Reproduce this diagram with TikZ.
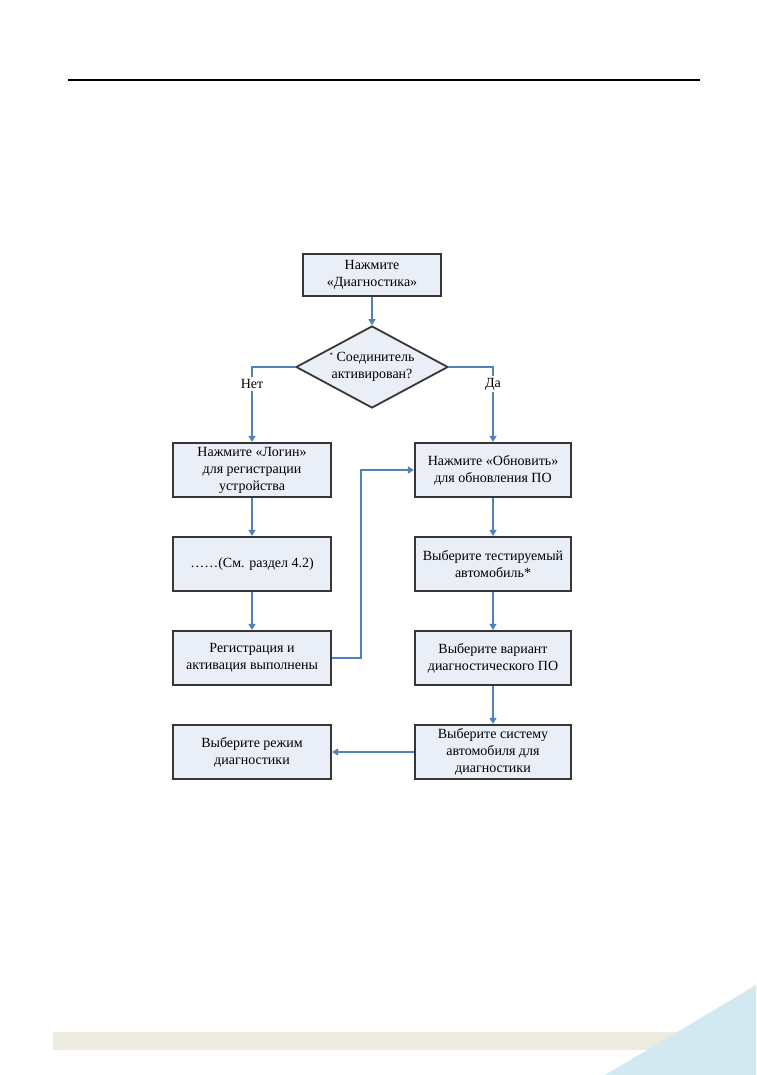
\documentclass[tikz,border=0pt]{standalone}
\usepackage{fontspec}
\setmainfont{Liberation Serif}
\usetikzlibrary{shapes.geometric,arrows.meta,shadows}
\definecolor{arrowblue}{HTML}{4F81BD}
\definecolor{boxfill}{HTML}{E9EEF7}
\definecolor{boxborder}{HTML}{363636}
\definecolor{bandcolor}{HTML}{EDEAE0}
\definecolor{triblue}{HTML}{D3E9F1}
\tikzset{
  box/.style={draw=boxborder, line width=2.2pt, fill=boxfill, align=center,
    inner sep=2pt, font=\fontsize{14}{17}\selectfont,
    drop shadow={opacity=0.25, shadow xshift=1pt, shadow yshift=-1pt}},
  colbox/.style={box, minimum height=54pt},
  decision/.style={diamond, draw=boxborder, line width=1.8pt, fill=boxfill, align=center,
    inner sep=0pt, aspect=1.85, font=\fontsize{14}{17}\selectfont},
  arr/.style={draw=arrowblue, line width=2.1pt, -{Triangle[length=6pt,width=7pt]}},
  lbl/.style={fill=white, inner sep=2pt, font=\fontsize{14}{17}\selectfont}
}
\begin{document}
\begin{tikzpicture}[x=1pt,y=-1pt]
\useasboundingbox (0,0) rectangle (756,1075);
% page decoration
\draw[line width=1.8pt, black] (68,80) -- (700,80);
\fill[bandcolor] (53,1032) rectangle (700,1050);
\fill[triblue] (605,1075) -- (756,985) -- (756,1075) -- cycle;

% nodes
\node[box, minimum width=138pt, minimum height=42pt, line width=2.6pt] (start) at (372,275) {Нажмите\\«Диагностика»};
\node[decision, minimum width=152pt, minimum height=82pt] (dec) at (372,367) {\raisebox{4pt}{\scriptsize*} Соединитель\\активирован?};

\node[colbox, minimum width=158pt] (l1) at (252,470) {Нажмите «Логин»\\для регистрации\\устройства};
\node[colbox, minimum width=158pt] (l2) at (252,564) {……(См. раздел 4.2)};
\node[colbox, minimum width=158pt] (l3) at (252,658) {Регистрация и\\активация выполнены};
\node[colbox, minimum width=158pt] (l4) at (252,752) {Выберите режим\\диагностики};

\node[colbox, minimum width=156pt] (r1) at (493,470) {Нажмите «Обновить»\\для обновления ПО};
\node[colbox, minimum width=156pt] (r2) at (493,564) {Выберите тестируемый\\автомобиль*};
\node[colbox, minimum width=156pt] (r3) at (493,658) {Выберите вариант\\диагностического ПО};
\node[colbox, minimum width=156pt] (r4) at (493,752) {Выберите систему\\автомобиля для\\диагностики};

% connectors
\draw[arr] (start) -- (dec);
\draw[arr] (dec.west) -| (l1.north);
\draw[arr] (dec.east) -| (r1.north);
\node[lbl] (no) at (252,384) {Нет};
\node[lbl] (yes) at (493,384) {Да};

\draw[arr] (l1) -- (l2);
\draw[arr] (l2) -- (l3);
\draw[arr] (l3.east) -- ++(29,0) |- (r1.west);

\draw[arr] (r1) -- (r2);
\draw[arr] (r2) -- (r3);
\draw[arr] (r3) -- (r4);
\draw[arr] (r4) -- (l4);
\end{tikzpicture}
\end{document}
